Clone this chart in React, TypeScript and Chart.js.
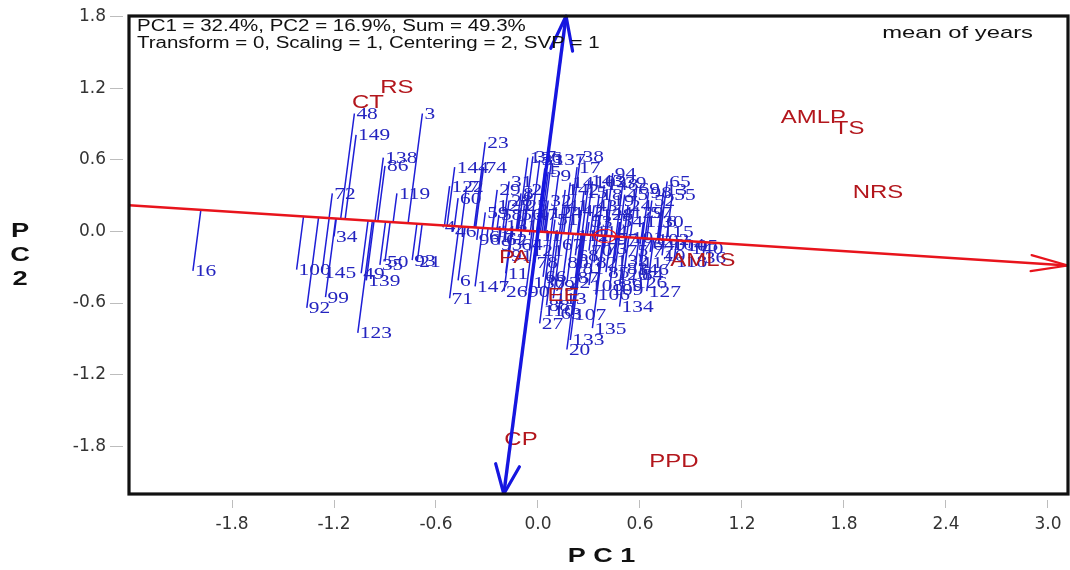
import React, { useEffect, useRef } from "react";
import { Chart, registerables } from "chart.js";

Chart.register(...registerables);

// ---------- data ----------
const GEN_LABELS = [
  "16", "48", "149", "138", "86", "3", "72", "119", "34", "100",
  "92", "145", "99", "49", "139", "123", "35", "50", "93", "21",
  "71", "6", "4", "46", "144", "122", "7", "60", "23", "74",
  "37", "33", "17", "38", "94", "65", "13", "30", "116", "36",
  "40", "10", "132", "127", "134", "106", "135", "133", "20", "63",
  "27", "26", "147", "11", "130", "22", "108", "126", "85", "31",
  "103", "39", "69", "98", "52", "57", "8", "125", "1", "5",
  "9", "14", "15", "18", "19", "24", "25", "28", "29", "32",
  "41", "42", "43", "44", "45", "47", "51", "53", "54", "55",
  "56", "58", "59", "61", "62", "64", "66", "67", "68", "70",
  "73", "75", "76", "77", "78", "79", "80", "81", "82", "83",
  "84", "87", "88", "89", "90", "91", "95", "96", "97", "101",
  "102", "104", "105", "107", "109", "110", "111", "112", "113", "114",
  "115", "117", "118", "120", "121", "124", "128", "129", "131", "136",
  "137", "140", "141", "142", "143", "146", "148", "2",
];
const GEN_X = [
  -2.03, -1.08, -1.07, -0.91, -0.90, -0.68, -1.21, -0.83, -1.20, -1.42,
  -1.36, -1.27, -1.25, -1.04, -1.01, -1.06, -0.93, -0.90, -0.74, -0.71,
  -0.52, -0.47, -0.56, -0.50, -0.49, -0.52, -0.42, -0.47, -0.31, -0.32,
  -0.03, 0.01, 0.23, 0.25, 0.44, 0.76, 0.74, 0.72, 0.62, 0.97,
  0.73, 0.73, 0.45, 0.64, 0.48, 0.34, 0.32, 0.19, 0.17, 0.12,
  0.01, -0.20, -0.37, -0.19, -0.04, 0.17, 0.30, 0.56, 0.40, -0.17,
  0.32, 0.50, 0.58, 0.65, 0.67, 0.65, -0.10, -0.25, 0.04, 0.06,
  0.12, 0.19, 0.27, 0.36, 0.43, 0.53, -0.08, -0.17, -0.24, 0.06,
  0.16, 0.25, 0.33, 0.42, 0.51, -0.02, 0.10, 0.30, 0.48, 0.79,
  -0.11, -0.23, -0.31, -0.30, -0.20, -0.11, 0.03, 0.13, 0.22, 0.30,
  0.39, 0.51, 0.60, 0.66, -0.02, 0.08, 0.16, 0.25, 0.33, 0.51,
  0.60, 0.22, 0.05, 0.48, -0.07, -0.17, -0.23, -0.36, 0.45, 0.54,
  0.69, 0.78, 0.86, 0.20, 0.42, 0.02, -0.05, 0.22, 0.09, 0.33,
  0.72, 0.60, 0.80, 0.45, -0.05, 0.06, 0.36, 0.54, -0.20, -0.06,
  0.08, 0.89, -0.27, 0.16, 0.30, 0.57, 0.39, -0.05,
];
const GEN_Y = [
  -0.33, 0.99, 0.81, 0.62, 0.55, 0.99, 0.32, 0.32, -0.04, -0.32,
  -0.64, -0.34, -0.55, -0.35, -0.41, -0.85, -0.28, -0.25, -0.24, -0.25,
  -0.56, -0.41, 0.04, 0.00, 0.54, 0.38, 0.38, 0.28, 0.75, 0.54,
  0.63, 0.60, 0.54, 0.63, 0.49, 0.42, 0.35, 0.08, 0.08, -0.22,
  -0.11, -0.20, -0.24, -0.50, -0.63, -0.53, -0.81, -0.91, -0.99, -0.69,
  -0.77, -0.50, -0.46, -0.35, -0.43, -0.43, -0.45, -0.43, -0.34, 0.42,
  0.42, 0.41, 0.36, 0.33, 0.26, 0.16, 0.32, 0.22, 0.53, 0.50,
  0.47, 0.41, 0.33, 0.31, 0.26, 0.22, 0.22, 0.26, 0.35, 0.26,
  0.22, 0.18, 0.22, 0.16, 0.31, 0.14, 0.10, 0.08, 0.08, 0.31,
  0.14, 0.14, 0.16, -0.04, -0.07, -0.11, -0.38, -0.11, -0.20, -0.16,
  -0.14, -0.16, -0.11, -0.17, -0.26, -0.45, -0.26, -0.31, -0.26, -0.31,
  -0.36, -0.39, -0.62, -0.45, -0.50, -0.20, -0.11, -0.07, -0.07, -0.05,
  -0.07, -0.11, -0.12, -0.70, -0.49, -0.66, -0.03, -0.03, -0.56, 0.00,
  0.00, -0.26, -0.25, -0.36, -0.16, 0.16, 0.14, 0.16, 0.05, 0.62,
  0.60, -0.14, 0.00, 0.35, 0.43, -0.32, 0.39, 0.35,
];

const TRAIT_LABELS = ["RS", "CT", "AMLP", "TS", "NRS", "AMLS", "PA", "EE", "CP", "PPD"];
const TRAIT_X = [-0.83, -1.0, 1.62, 1.83, 2.0, 0.97, -0.14, 0.15, -0.1, 0.8];
const TRAIT_Y = [1.2, 1.08, 0.95, 0.86, 0.32, -0.25, -0.22, -0.54, -1.75, -1.93];

// average environment coordinate (small circle on the red axis)
const AVG_ENV = [0.394, -0.036];

const X_TICKS = [-1.8, -1.2, -0.6, 0.0, 0.6, 1.2, 1.8, 2.4, 3.0];
const Y_TICKS = [-1.8, -1.2, -0.6, 0.0, 0.6, 1.2, 1.8];
const X_MIN = -2.406;
const X_MAX = 3.118;
const Y_MIN = -2.202;
const Y_MAX = 1.808;

const INFO_LINES = [
  "PC1 = 32.4%, PC2 = 16.9%, Sum = 49.3%",
  "Transform = 0, Scaling = 1, Centering = 2, SVP = 1",
];
const CORNER_NOTE = "mean of years";
const X_TITLE = "P C 1";
const Y_TITLE = ["P", "C", "2"];

// ---------- derived ----------
const norm = Math.hypot(AVG_ENV[0], AVG_ENV[1]);
const UX = AVG_ENV[0] / norm;
const UY = AVG_ENV[1] / norm;
const SLOPE = UY / UX; // red axis slope
const PERP = -UY / UX; // blue axis: x = PERP * y

const projData: any[] = [];
GEN_X.forEach((gx, i) => {
  const gy = GEN_Y[i];
  const t = gx * UX + gy * UY;
  projData.push({ x: gx, y: gy });
  projData.push({ x: t * UX, y: t * UY });
  projData.push({ x: t * UX, y: null });
});

const BLUE = "#1616e0";
const RED = "#e8141c";
const TRAIT_RED = "#b3161c";
const GEN_TEXT = "#2424bf";
const GEN_LINE = "#1e1ed6";

function sText(
  ctx: CanvasRenderingContext2D,
  text: string,
  x: number,
  y: number,
  sx: number,
  align: CanvasTextAlign
) {
  ctx.save();
  ctx.translate(x, y);
  ctx.scale(sx, 1);
  ctx.textAlign = align;
  ctx.fillText(text, 0, 0);
  ctx.restore();
}

function arrowHead(
  ctx: CanvasRenderingContext2D,
  tip: number[],
  from: number[],
  len: number,
  half: number
) {
  const dx = tip[0] - from[0];
  const dy = tip[1] - from[1];
  const l = Math.hypot(dx, dy);
  const ux = dx / l;
  const uy = dy / l;
  const bx = tip[0] - ux * len;
  const by = tip[1] - uy * len;
  ctx.beginPath();
  ctx.moveTo(bx - uy * half, by + ux * half);
  ctx.lineTo(tip[0], tip[1]);
  ctx.lineTo(bx + uy * half, by - ux * half);
  ctx.stroke();
}

const biplotPlugin = {
  id: "biplot",
  beforeDatasetDraw(chart: any, args: any) {
    const ctx: CanvasRenderingContext2D = chart.ctx;
    const xs = chart.scales.x;
    const ys = chart.scales.y;
    if (args.index === 1) {
      // genotype labels, before the red axis is drawn
      ctx.save();
      ctx.fillStyle = GEN_TEXT;
      ctx.font = '17px "Liberation Serif", "Times New Roman", serif';
      ctx.textBaseline = "middle";
      GEN_LABELS.forEach((lab, i) => {
        const px = xs.getPixelForValue(GEN_X[i]);
        const py = ys.getPixelForValue(GEN_Y[i]);
        sText(ctx, lab, px + 2, py + 1, 1.26, "left");
      });
      ctx.restore();
    }
    if (args.index === 0) {
      // average-environment circle and trait labels, before the blue axis
      ctx.save();
      const cx = xs.getPixelForValue(AVG_ENV[0]);
      const cy = ys.getPixelForValue(AVG_ENV[1]);
      const rx = Math.abs(xs.getPixelForValue(0.065) - xs.getPixelForValue(0));
      const ry = Math.abs(ys.getPixelForValue(0.055) - ys.getPixelForValue(0));
      ctx.strokeStyle = RED;
      ctx.lineWidth = 1.2;
      ctx.beginPath();
      ctx.ellipse(cx, cy, rx, ry, 0, 0, Math.PI * 2);
      ctx.stroke();

      ctx.fillStyle = TRAIT_RED;
      ctx.font = '18px "Liberation Sans", Arial, sans-serif';
      ctx.textBaseline = "middle";
      TRAIT_LABELS.forEach((lab, i) => {
        sText(
          ctx,
          lab,
          xs.getPixelForValue(TRAIT_X[i]),
          ys.getPixelForValue(TRAIT_Y[i]),
          1.33,
          "center"
        );
      });
      ctx.restore();
    }
  },
  afterDatasetsDraw(chart: any) {
    const ctx: CanvasRenderingContext2D = chart.ctx;
    const xs = chart.scales.x;
    const ys = chart.scales.y;
    const P = (x: number, y: number) => [xs.getPixelForValue(x), ys.getPixelForValue(y)];
    ctx.save();
    ctx.lineCap = "round";
    ctx.lineJoin = "round";
    // red arrowhead
    ctx.strokeStyle = RED;
    ctx.lineWidth = 2.2;
    arrowHead(ctx, P(X_MAX, X_MAX * SLOPE), P(X_MIN, X_MIN * SLOPE), 37, 8);
    // blue arrowheads
    ctx.strokeStyle = BLUE;
    ctx.lineWidth = 3.2;
    const top = P(Y_MAX * PERP, Y_MAX);
    const bot = P(Y_MIN * PERP, Y_MIN);
    arrowHead(ctx, top, bot, 34, 11);
    arrowHead(ctx, bot, top, 29, 12);
    ctx.restore();
  },
  afterDraw(chart: any) {
    const ctx: CanvasRenderingContext2D = chart.ctx;
    const a = chart.chartArea;
    ctx.save();
    // small gap between tick marks and box
    ctx.fillStyle = "#ffffff";
    ctx.fillRect(a.left - 6, a.top - 2, 5, a.bottom - a.top + 8);
    ctx.fillRect(a.left - 6, a.bottom + 1, a.right - a.left + 12, 5);
    // box
    ctx.strokeStyle = "#111111";
    ctx.lineWidth = 3.2;
    ctx.strokeRect(a.left, a.top, a.right - a.left, a.bottom - a.top);

    // info text
    ctx.fillStyle = "#111111";
    ctx.font = '16px "Liberation Sans", Arial, sans-serif';
    ctx.textBaseline = "middle";
    sText(ctx, INFO_LINES[0], a.left + 8, a.top + 11, 1.28, "left");
    sText(ctx, INFO_LINES[1], a.left + 8, a.top + 28, 1.28, "left");
    ctx.font = '17px "Liberation Sans", Arial, sans-serif';
    sText(ctx, CORNER_NOTE, a.right - 35, a.top + 17, 1.4, "right");

    // axis titles
    ctx.font = 'bold 20px "Liberation Sans", Arial, sans-serif';
    sText(ctx, X_TITLE, (a.left + a.right) / 2 + 3, 556, 1.35, "center");
    ctx.font = 'bold 21px "Liberation Sans", Arial, sans-serif';
    Y_TITLE.forEach((ch, i) => {
      sText(ctx, ch, 20, 231 + i * 24, 1.3, "center");
    });
    ctx.restore();
  },
};

export default function App() {
  const ref = useRef<HTMLCanvasElement>(null);
  useEffect(() => {
    const chart = new Chart(ref.current as HTMLCanvasElement, {
      type: "scatter",
      data: {
        datasets: [
          {
            label: "PC2 axis",
            data: [
              { x: Y_MIN * PERP, y: Y_MIN },
              { x: Y_MAX * PERP, y: Y_MAX },
            ],
            showLine: true,
            borderColor: BLUE,
            borderWidth: 3.4,
            pointRadius: 0,
          },
          {
            label: "Average environment axis",
            data: [
              { x: X_MIN, y: X_MIN * SLOPE },
              { x: X_MAX, y: X_MAX * SLOPE },
            ],
            showLine: true,
            borderColor: RED,
            borderWidth: 2.5,
            pointRadius: 0,
          },
          {
            label: "Genotype projections",
            data: projData,
            showLine: true,
            spanGaps: false,
            borderColor: GEN_LINE,
            borderWidth: 1.5,
            pointRadius: 0,
          },
        ],
      } as any,
      options: {
        animation: false,
        responsive: false,
        maintainAspectRatio: false,
        events: [],
        layout: { padding: { left: 0, right: 2, top: 16, bottom: 0 } },
        plugins: {
          legend: { display: false },
          tooltip: { enabled: false },
          title: { display: false },
        },
        scales: {
          x: {
            type: "linear",
            min: X_MIN,
            max: X_MAX,
            afterBuildTicks: (s: any) => {
              s.ticks = X_TICKS.map((v) => ({ value: v }));
            },
            afterFit: (s: any) => {
              s.height = 76;
            },
            border: { display: false },
            grid: {
              drawOnChartArea: false,
              drawTicks: true,
              tickLength: 14,
              color: "#bdbdbd",
              lineWidth: 1,
            },
            ticks: {
              autoSkip: false,
              maxRotation: 0,
              padding: 6,
              color: "#333333",
              font: { family: '"DejaVu Sans", sans-serif', size: 17 },
              callback: (v: any) => Number(v).toFixed(1),
            },
          },
          y: {
            type: "linear",
            min: Y_MIN,
            max: Y_MAX,
            afterBuildTicks: (s: any) => {
              s.ticks = Y_TICKS.map((v) => ({ value: v }));
            },
            afterFit: (s: any) => {
              s.width = 129;
            },
            border: { display: false },
            grid: {
              drawOnChartArea: false,
              drawTicks: true,
              tickLength: 19,
              color: "#bdbdbd",
              lineWidth: 1,
            },
            ticks: {
              autoSkip: false,
              padding: 4,
              color: "#333333",
              font: { family: '"DejaVu Sans", sans-serif', size: 17 },
              callback: (v: any) => Number(v).toFixed(1),
            },
          },
        },
      } as any,
      plugins: [biplotPlugin],
    });
    return () => chart.destroy();
  }, []);

  return (
    <div
      style={{
        position: "absolute",
        left: 0,
        top: 0,
        width: 1070,
        height: 570,
        background: "#ffffff",
      }}
    >
      <canvas
        ref={ref}
        width={1070}
        height={570}
        style={{ display: "block", width: 1070, height: 570 }}
      />
    </div>
  );
}
